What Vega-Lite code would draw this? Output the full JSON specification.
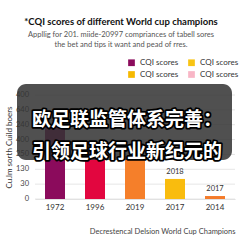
{
  "$schema": "https://vega.github.io/schema/vega-lite/v6.json",
  "autosize": "none",
  "width": 200,
  "height": 104,
  "padding": {"left": 35, "top": 95, "right": 8, "bottom": 44},
  "background": "white",
  "config": {
    "font": "Lato",
    "view": {"stroke": null}
  },
  "title": {
    "text": "*CQI scores of different World cup champions",
    "subtitle": ["Appllig for 201. miide-20997 compriances of tabell sores", "the bet and tips it want and pead of rres."],
    "anchor": "middle",
    "dx": -14,
    "offset": 10,
    "fontSize": 9.5,
    "fontWeight": "bold",
    "color": "#111",
    "subtitleFontSize": 7.5,
    "subtitleColor": "#555",
    "subtitlePadding": 4,
    "subtitleLineHeight": 10
  },
  "datasets": {
    "bars": [
      {"champion": "1972", "score": 4.9, "label": "1997"},
      {"champion": "1996", "score": 3.16, "label": "1990"},
      {"champion": "2019", "score": 2.89, "label": "1998"},
      {"champion": "2017", "score": 1.35, "label": "2018"},
      {"champion": "2014", "score": 0.2, "label": "2017"}
    ],
    "yticks": [
      {"v": 0, "t": "0"},
      {"v": 1, "t": "30"},
      {"v": 2, "t": "130"},
      {"v": 3, "t": "250"},
      {"v": 4, "t": "400"},
      {"v": 5, "t": "240"},
      {"v": 6, "t": "640"},
      {"v": 7, "t": "400"}
    ],
    "legendkeys": [
      {"key": "a"}, {"key": "b"}, {"key": "c"}, {"key": "d"}
    ],
    "banner": [
      {"line1": "欧足联监管体系完善：", "line2": "引领足球行业新纪元的"}
    ]
  },
  "layer": [
    {
      "data": {"name": "yticks"},
      "mark": {"type": "rule", "color": "#e6e6e6", "strokeWidth": 1},
      "encoding": {
        "y": {"field": "v", "type": "quantitative", "scale": {"domain": [0, 7], "nice": false}}
      }
    },
    {
      "data": {"name": "bars"},
      "mark": {"type": "bar", "width": 20},
      "encoding": {
        "x": {
          "field": "champion", "type": "nominal", "sort": null,
          "scale": {"paddingInner": 0.5, "paddingOuter": 0.25},
          "axis": {
            "title": "Decrestencal Delsion World Cup Champions",
            "titleAnchor": "end",
            "titleFontSize": 7.5,
            "titleFontWeight": "normal",
            "titleColor": "#444",
            "titlePadding": 16,
            "labelAngle": 0,
            "labelFontSize": 8,
            "labelColor": "#333",
            "labelPadding": 4,
            "ticks": false,
            "domainColor": "#ddd"
          }
        },
        "y": {
          "field": "score", "type": "quantitative",
          "scale": {"domain": [0, 7], "nice": false},
          "axis": {
            "title": "Cu.lm sorth Cuild boers",
            "titleFontSize": 8,
            "titleFontWeight": "normal",
            "titleColor": "#333",
            "titlePadding": 22,
            "labels": false,
            "ticks": false,
            "domain": false,
            "grid": false
          }
        },
        "color": {
          "field": "champion", "type": "nominal", "legend": null,
          "scale": {
            "domain": ["1972", "1996", "2019", "2017", "2014"],
            "range": ["#8B0B5C", "#E2063F", "#F57F2A", "#F9BC0E", "#F47B2A"]
          }
        }
      }
    },
    {
      "data": {"name": "bars"},
      "mark": {"type": "text", "dy": -7, "fontSize": 7.5, "color": "#333"},
      "encoding": {
        "x": {"field": "champion", "type": "nominal", "sort": null},
        "y": {"field": "score", "type": "quantitative"},
        "text": {"field": "label"}
      }
    },
    {
      "data": {"name": "yticks"},
      "mark": {"type": "text", "align": "right", "baseline": "middle", "fontSize": 7.5, "color": "#444", "xOffset": -16},
      "encoding": {
        "x": {"datum": "1972", "type": "nominal", "bandPosition": 0},
        "y": {"field": "v", "type": "quantitative"},
        "text": {"field": "t"}
      }
    },
    {
      "data": {"name": "legendkeys"},
      "mark": {"type": "square", "opacity": 0},
      "encoding": {
        "color": {
          "field": "key", "type": "nominal",
          "scale": {"domain": ["a", "b", "c", "d"], "range": ["#8B0B5C", "#F6B900", "#F8C414", "#F8B6C6"]},
          "legend": {
            "title": null,
            "orient": "none",
            "legendX": 92,
            "legendY": -37,
            "columns": 2,
            "columnPadding": 8,
            "rowPadding": 3,
            "symbolType": "square",
            "symbolSize": 45,
            "symbolOpacity": 1,
            "labelFontSize": 8,
            "labelColor": "#333",
            "labelExpr": "'CQI scores'"
          }
        }
      }
    },
    {
      "data": {"name": "banner"},
      "mark": {"type": "rect", "cornerRadius": 9, "fill": "#333333", "opacity": 0.86, "xOffset": -28, "x2Offset": 7},
      "encoding": {
        "x": {"datum": "1972", "type": "nominal", "bandPosition": 0},
        "x2": {"datum": "2014", "bandPosition": 1},
        "y": {"datum": 7.74, "type": "quantitative"},
        "y2": {"datum": 2.62}
      }
    },
    {
      "data": {"name": "banner"},
      "mark": {"type": "text", "font": "Noto Sans CJK SC", "fontWeight": "bold", "fontSize": 19, "lineHeight": 32, "baseline": "middle", "align": "center", "fill": "black", "stroke": "black", "strokeWidth": 3.5, "strokeJoin": "round", "xOffset": -8},
      "encoding": {
        "x": {"datum": "2019", "type": "nominal", "bandPosition": 0.5},
        "y": {"datum": 5.315, "type": "quantitative"},
        "text": {"value": ["欧足联监管体系完善：", "引领足球行业新纪元的"]}
      }
    },
    {
      "data": {"name": "banner"},
      "mark": {"type": "text", "font": "Noto Sans CJK SC", "fontWeight": "bold", "fontSize": 19, "lineHeight": 32, "baseline": "middle", "align": "center", "fill": "white", "xOffset": -8},
      "encoding": {
        "x": {"datum": "2019", "type": "nominal", "bandPosition": 0.5},
        "y": {"datum": 5.315, "type": "quantitative"},
        "text": {"value": ["欧足联监管体系完善：", "引领足球行业新纪元的"]}
      }
    }
  ],
  "resolve": {"scale": {"color": "independent"}}
}
